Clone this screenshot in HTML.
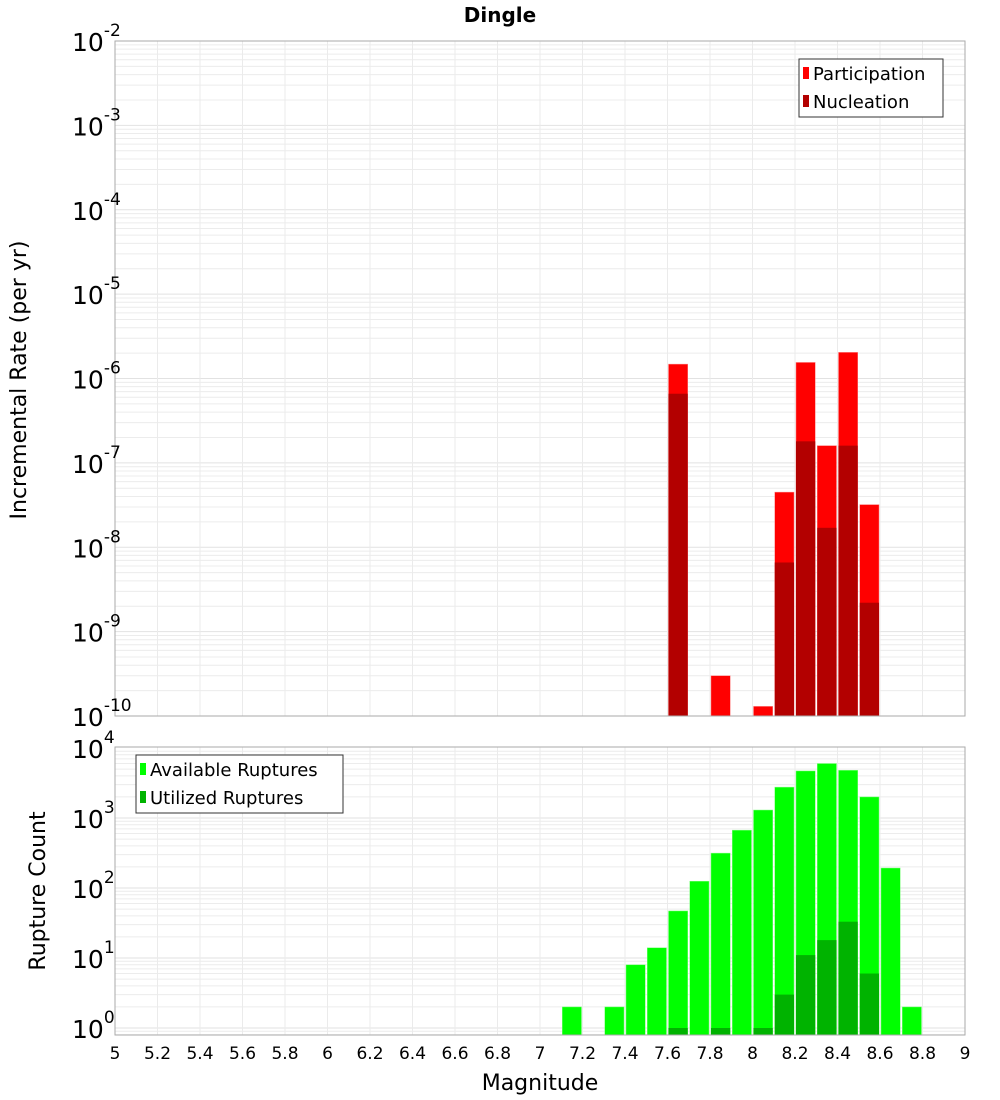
<!DOCTYPE html>
<html><head><meta charset="utf-8"><style>
body{margin:0;background:#fff;}
svg{display:block;font-family:"DejaVu Sans","Liberation Sans",sans-serif;}
</style></head><body>
<svg id="c" width="1000" height="1100"></svg>
<script>
const bins = [7.6,7.8,8.0,8.1,8.2,8.3,8.4,8.5];
const participation = [1.48e-6,3.0e-10,1.3e-10,4.5e-8,1.55e-6,1.6e-7,2.04e-6,3.2e-8];
const nucleation = [6.6e-7,0,0,6.6e-9,1.8e-7,1.7e-8,1.6e-7,2.2e-9];
const countBins = [7.1,7.3,7.4,7.5,7.6,7.7,7.8,7.9,8.0,8.1,8.2,8.3,8.4,8.5,8.6,8.7];
const available = [2,2,8,14,47,125,315,670,1300,2760,4700,6000,4800,2000,193,2];
const utilized = [0,0,0,0,1,0,1,0,1,3,11,18,33,6,0,0];
const xTicks = [5,5.2,5.4,5.6,5.8,6,6.2,6.4,6.6,6.8,7,7.2,7.4,7.6,7.8,8,8.2,8.4,8.6,8.8,9];
const topExps = [-2,-3,-4,-5,-6,-7,-8,-9,-10];
const botExps = [4,3,2,1,0];

const NS="http://www.w3.org/2000/svg";
const svg=document.getElementById('c');
function el(tag,attrs,parent){const e=document.createElementNS(NS,tag);for(const k in attrs)e.setAttribute(k,attrs[k]);(parent||svg).appendChild(e);return e;}
const X0=115,X1=965;
const x=m=>X0+(m-5)/4*(X1-X0);
const T0=41,T1=716;
const yTop=v=>T1-(Math.log10(v)+10)*(T1-T0)/8;
const B0=748,B1=1028,BB=1035;
const yBot=v=>B1-Math.log10(v)*70;

function grid(top,bottom,yf,eMin,eMax){
  for(let e=eMin;e<eMax;e++)for(let k=1;k<10;k++){
    const yy=yf(k*Math.pow(10,e));
    if(yy<top-0.5||yy>bottom)continue;
    const g=el('line',{x1:X0,x2:X1,y1:yy,y2:yy,stroke:k==1?'#e2e2e2':'#ececec','stroke-width':1});
    
    
  }
  xTicks.forEach(t=>{const g=el('line',{x1:x(t),x2:x(t),y1:top,y2:bottom,stroke:'#ebebeb'});
    
    });
}
grid(T0,T1,yTop,-10,-1);
grid(B0-1,BB,yBot,-1,4);

const bw=x(5.1)-x(5)-2;
bins.forEach((b,i)=>{
  const p=participation[i];
  if(p>0){const r=el('rect',{x:x(b)+1,y:yTop(p),width:bw,height:T1-yTop(p),fill:'#ff0000',stroke:'#ff8080','stroke-width':0.5});
    
    }
  const n=nucleation[i];
  if(n>0){const r=el('rect',{x:x(b)+1,y:yTop(n),width:bw,height:T1-yTop(n),fill:'#b30000'});
    
    }
});
countBins.forEach((b,i)=>{
  const a=available[i];
  if(a>0){const r=el('rect',{x:x(b)+1,y:yBot(a),width:bw,height:BB-yBot(a),fill:'#00ff00',stroke:'#80ff80','stroke-width':0.5});
    
    }
  const u=utilized[i];
  if(u>0){const r=el('rect',{x:x(b)+1,y:yBot(u),width:bw,height:BB-yBot(u),fill:'#00b300'});
    
    }
});
const f1=el('rect',{x:X0,y:T0,width:X1-X0,height:T1-T0,fill:'none',stroke:'#aaa'});

const f2=el('rect',{x:X0,y:B0-1,width:X1-X0,height:BB-B0+1,fill:'none',stroke:'#aaa'});


function powLabel(yy,e,name){
  const t=el('text',{x:72,y:yy+10,'font-size':25,fill:'#000'});
  
  
  t.textContent='10';
  const s=el('tspan',{dy:-15,'font-size':17},t);s.textContent=String(e);
}
topExps.forEach(e=>powLabel(yTop(Math.pow(10,e)),e,'y-tick-label'));
botExps.forEach(e=>powLabel(yBot(Math.pow(10,e)),e,'count-tick-label'));
xTicks.forEach(t=>{const tx=el('text',{x:x(t),y:1059,'text-anchor':'middle','font-size':17});
  
  
  tx.textContent=String(t);});
</script>
<div style="position:absolute;left:0;top:0;width:1000px;height:1100px;pointer-events:none">
<svg width="1000" height="1100" style="position:absolute;left:0;top:0;font-family:'DejaVu Sans','Liberation Sans',sans-serif">
<text x="500" y="22" text-anchor="middle" font-size="20" font-weight="bold">Dingle</text>
<text transform="translate(26,380) rotate(-90)" text-anchor="middle" font-size="22">Incremental Rate (per yr)</text>
<text transform="translate(45,891) rotate(-90)" text-anchor="middle" font-size="22">Rupture Count</text>
<text x="540" y="1090" text-anchor="middle" font-size="22">Magnitude</text>
<g>
<rect x="799" y="59" width="144" height="58" fill="#fff" stroke="#333"/>
<rect x="803" y="67" width="6" height="12" fill="#f00"/>
<text x="813" y="80" font-size="18">Participation</text>
<rect x="803" y="95" width="6" height="12" fill="#b30000"/>
<text x="813" y="108" font-size="18">Nucleation</text>
</g>
<g>
<rect x="136" y="755" width="207" height="58" fill="#fff" stroke="#333"/>
<rect x="140" y="763" width="6" height="12" fill="#0f0"/>
<text x="150" y="776" font-size="18">Available Ruptures</text>
<rect x="140" y="791" width="6" height="12" fill="#00b300"/>
<text x="150" y="804" font-size="18">Utilized Ruptures</text>
</g>
</svg></div>
</body></html>
